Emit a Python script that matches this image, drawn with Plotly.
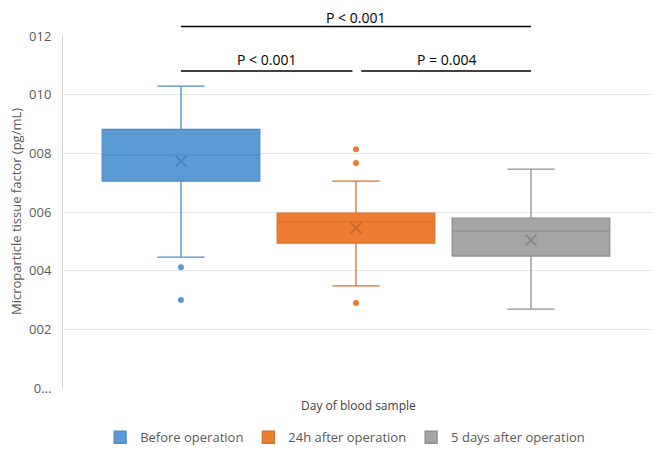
import plotly.graph_objects as go

# ---- data ----
series_names = ["Before operation", "24h after operation", "5 days after operation"]
positions = [1, 2, 3]
q1_vals = [7.05, 4.94, 4.50]
median_vals = [7.94, 5.66, 5.35]
q3_vals = [8.82, 5.96, 5.79]
lower_whisker = [4.46, 3.48, 2.69]
upper_whisker = [10.29, 7.05, 7.46]
mean_vals = [7.73, 5.45, 5.04]
outliers = [[4.12, 3.00], [8.14, 7.67, 2.90], []]

tick_vals = [0, 2, 4, 6, 8, 10, 12]
tick_text = ["0...", "002", "004", "006", "008", "010", "012"]

fill_colors = ["#5B9BD5", "#ED7D31", "#A5A5A5"]
line_colors = ["#4E8CCB", "#DB7029", "#8F8F8F"]
mean_colors = ["#4A7DB3", "#C9692A", "#858585"]

# comparisons: (from series idx, to series idx, label, line level, text level)
comparisons = [(0, 2, "P < 0.001", 1.027, 1.052),
               (0, 1, "P < 0.001", 0.9006, 0.934),
               (1, 2, "P = 0.004", 0.9006, 0.934)]

FONT = "Open Sans"
fig = go.Figure()

for i, name in enumerate(series_names):
    fig.add_trace(go.Box(
        x=[positions[i]], q1=[q1_vals[i]], median=[median_vals[i]], q3=[q3_vals[i]],
        lowerfence=[lower_whisker[i]], upperfence=[upper_whisker[i]],
        name=name, width=0.9, whiskerwidth=0.3, boxpoints=False,
        fillcolor=fill_colors[i], line=dict(color=line_colors[i], width=1.3),
        hoverinfo="skip", showlegend=True,
    ))

for i in range(3):
    fig.add_trace(go.Scatter(
        x=[positions[i]], y=[mean_vals[i]], mode="markers", showlegend=False,
        marker=dict(symbol="x-thin-open", size=11, color=mean_colors[i],
                    line=dict(color=mean_colors[i], width=1.6)),
        hoverinfo="skip"))
    if outliers[i]:
        fig.add_trace(go.Scatter(
            x=[positions[i]] * len(outliers[i]), y=outliers[i], mode="markers",
            showlegend=False, marker=dict(symbol="circle", size=6, color=fill_colors[i]),
            hoverinfo="skip"))

for a, b, label, ly, ty in comparisons:
    x0 = positions[a] + (0.03 if a == 1 else 0.0)
    x1 = positions[b] - (0.02 if b == 1 else 0.0)
    fig.add_shape(type="line", xref="x", yref="paper", x0=x0, x1=x1, y0=ly, y1=ly,
                  line=dict(color="black", width=1.3))
    fig.add_annotation(xref="x", yref="paper", x=(x0 + x1) / 2, y=ty, text=label,
                       showarrow=False, font=dict(family=FONT, size=14, color="#000000"),
                       yanchor="middle")

fig.add_annotation(xref="paper", yref="paper", x=0.497, y=-0.05, text="Day of blood sample",
                   showarrow=False, font=dict(family=FONT, size=12, color="#404040"),
                   yanchor="middle")
fig.add_annotation(xref="paper", yref="paper", x=-0.0791, y=0.5, textangle=-90,
                   text="Microparticle tissue factor (pg/mL)", showarrow=False,
                   font=dict(family=FONT, size=13, color="#595959"),
                   xanchor="center", yanchor="middle")

# the page body adds an 8 px offset, so the figure is sized to fill the rest of the window
fig.update_layout(
    width=652, height=457,
    margin=dict(l=55, r=3, t=28, b=77, autoexpand=False),
    paper_bgcolor="white", plot_bgcolor="white",
    font=dict(family=FONT, color="#595959", size=12),
    showlegend=True,
    legend=dict(orientation="h", x=0.475, xanchor="center", y=-0.14, yanchor="middle",
                font=dict(family=FONT, size=13, color="#595959"), itemclick=False,
                itemwidth=30),
    xaxis=dict(range=[0.326, 3.72], showticklabels=False, showgrid=False, zeroline=False,
               showline=False, ticks="", automargin=False),
    yaxis=dict(range=[0, 12], tickvals=tick_vals, ticktext=tick_text,
               showgrid=True, gridcolor="#E8E8E8", gridwidth=1, zeroline=False,
               showline=True, linecolor="#D0D0D0", linewidth=1, ticks="",
               ticklabelstandoff=8, automargin=False,
               tickfont=dict(family=FONT, size=13, color="#595959")),
)

fig.write_html("out.html")
